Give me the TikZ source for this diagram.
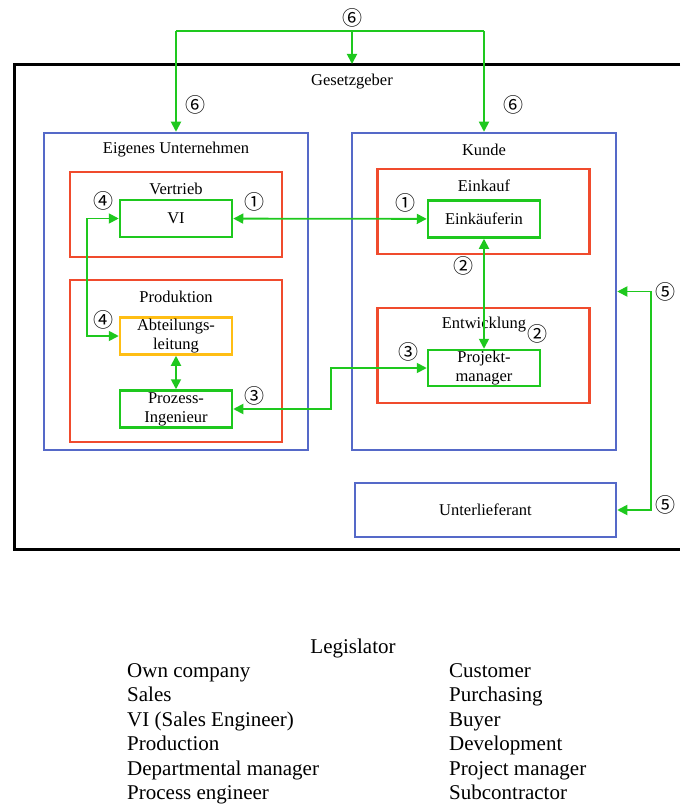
\documentclass[tikz,border=0pt]{standalone}
\usepackage{fontspec}
\setmainfont{Liberation Serif}
\newfontfamily\numfont{Noto Sans CJK JP}
\usepackage{tikz}
\usetikzlibrary{arrows.meta,positioning,calc}
\usepackage{xcolor}

\definecolor{lgreen}{RGB}{30,200,30}
\definecolor{lred}{RGB}{240,75,45}
\definecolor{lblue}{RGB}{85,105,200}
\definecolor{lyellow}{RGB}{255,190,20}

\begin{document}
\begin{tikzpicture}[
  x=1pt,y=-1pt,
  every node/.style={font=\fontsize{16.5}{19}\selectfont},
  ubox/.style={draw=lblue,line width=2.5pt,rectangle,minimum width=264pt,inner sep=0pt},
  abox/.style={draw=lred,line width=2.5pt,rectangle,minimum width=212pt,inner sep=0pt},
  pbox/.style={draw=lgreen,line width=2.5pt,rectangle,minimum width=112pt,minimum height=37pt,
               inner sep=0pt,align=center},
  ybox/.style={draw=lyellow,line width=2.5pt,rectangle,minimum width=112pt,minimum height=37pt,
               inner sep=0pt,align=center},
  num/.style={font=\numfont\fontsize{20}{20}\selectfont,inner sep=0pt},
  leg/.style={font=\fontsize{21}{24}\selectfont,anchor=base west,inner sep=0pt},
  arr/.style={-{Triangle[length=10pt,width=10pt]},line width=1.8pt,color=lgreen},
  darr/.style={{Triangle[length=10pt,width=10pt]}-{Triangle[length=10pt,width=10pt]},
               line width=1.8pt,color=lgreen}
]
\useasboundingbox (0,0) rectangle (680,805);

% Legislator frame (right side outside the picture)
\draw[line width=3pt] (680,65) -- (14,65) -- (14,549) -- (680,549);
\node (gesetz) at (352,82) {Gesetzgeber};

% Own company
\node[ubox,minimum height=317pt] (eig) at (176,291.5) {};
\node (eigt) at (176,150) {Eigenes Unternehmen};
\node[abox,minimum height=85pt] (vert) at (176,214.5) {};
\node (vertt) at (176,189) {Vertrieb};
\node[pbox] (vi) at (176,218.5) {VI};
\node[abox,minimum height=162pt] (prod) at (176,361) {};
\node (prodt) at (176,297) {Produktion};
\node[ybox] (abt) at (176,336) {Abteilungs-\\leitung};
\node[pbox] (proz) at (176,409) {Prozess-\\Ingenieur};

% Customer
\node[ubox,minimum height=317pt] (kun) at (484,291.5) {};
\node (kunt) at (484,150) {Kunde};
\node[abox,minimum height=85pt] (eink) at (483.5,211.5) {};
\node (einkt) at (484,186) {Einkauf};
\node[pbox] (ek) at (484,219) {Einkäuferin};
\node[abox,minimum height=95pt] (entw) at (483.5,355.5) {};
\node (entwt) at (484,325) {Entwicklung};
\node[pbox,minimum height=36pt] (pm) at (484,368) {Projekt-\\manager};

% Subcontractor
\node[ubox,minimum width=261pt,minimum height=54pt] (unt) at (485.5,510) {Unterlieferant};

% Connectors
\coordinate (t6) at (352,31);
\coordinate (t6l) at (176,31);
\coordinate (t6r) at (484,31);
\coordinate (gtop) at (352,64);
\draw[line width=1.8pt,lgreen] (t6l) -- (t6r);
\draw[arr] (t6) -- (gtop);
\draw[arr] (t6l) -- (eig.north);
\draw[arr] (t6r) -- (kun.north);
\draw[darr] (vi) -- (ek);
\draw[darr] (vi.west) -- ++(-32,0) |- (abt.west);
\draw[darr] (abt) -- (proz);
\draw[darr] (proz.east) -- ++(98,0) |- (pm.west);
\draw[darr] (ek) -- (pm);
\draw[darr] (kun.east) -- ++(34,0) |- (unt.east);

% Numbers
\node[num] (n6a) at (352,18) {⑥};
\node[num] (n6b) at (195,105) {⑥};
\node[num] (n6c) at (513,105) {⑥};
\node[num] (n4a) at (103,201) {④};
\node[num] (n4b) at (103,320) {④};
\node[num] (n1a) at (254,202) {①};
\node[num] (n1b) at (405,203) {①};
\node[num] (n3a) at (254,396) {③};
\node[num] (n3b) at (408,352) {③};
\node[num] (n2a) at (463,266) {②};
\node[num] (n2b) at (537,334) {②};
\node[num] (n5a) at (665,292) {⑤};
\node[num] (n5b) at (665,505) {⑤};

% Legend
\node[leg,anchor=base] (lg0) at (353,653) {Legislator};
\node[leg] (lg1) at (127,677) {Own company};
\node[leg] (lg2) at (127,701.5) {Sales};
\node[leg] (lg3) at (127,726) {VI (Sales Engineer)};
\node[leg] (lg4) at (127,750.5) {Production};
\node[leg] (lg5) at (127,775) {Departmental manager};
\node[leg] (lg6) at (127,799.5) {Process engineer};
\node[leg] (lr1) at (449,677) {Customer};
\node[leg] (lr2) at (449,701.5) {Purchasing};
\node[leg] (lr3) at (449,726) {Buyer};
\node[leg] (lr4) at (449,750.5) {Development};
\node[leg] (lr5) at (449,775) {Project manager};
\node[leg] (lr6) at (449,799.5) {Subcontractor};

\end{tikzpicture}
\end{document}
